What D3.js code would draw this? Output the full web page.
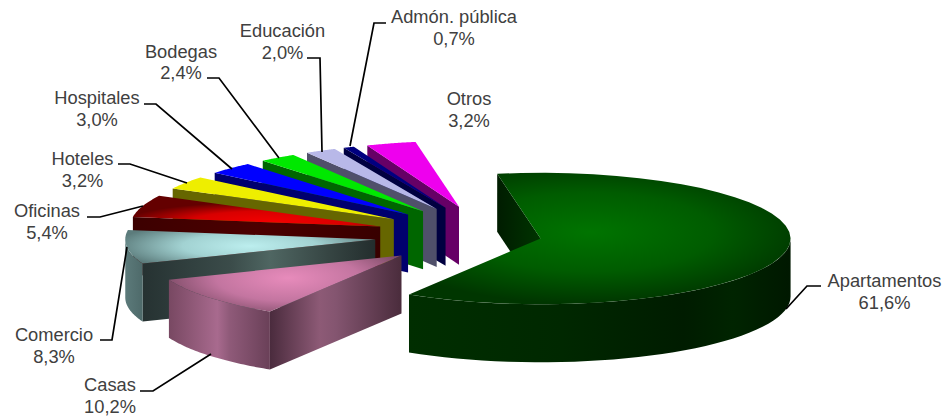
<!DOCTYPE html>
<html><head><meta charset="utf-8">
<script src="https://cdnjs.cloudflare.com/ajax/libs/d3/7.8.5/d3.min.js"></script>
<style>html,body{margin:0;padding:0;background:#fff}svg{display:block}text{font-family:"Liberation Sans",Arial,sans-serif;font-size:18.3px;fill:#404040;text-anchor:middle}</style>
</head><body><svg id="c" width="945" height="419"></svg>
<script>
// Data
const categories=["Apartamentos","Casas","Comercio","Oficinas","Hoteles","Hospitales","Bodegas","Educación","Admón. pública","Otros"];
const values=[61.6,10.2,8.3,5.4,3.2,3.0,2.4,2.0,0.7,3.2];
const valueLabels=["61,6%","10,2%","8,3%","5,4%","3,2%","3,0%","2,4%","2,0%","0,7%","3,2%"];
// Pull-out distance of each slice
const explode=[51,116,116,116,116,116,116,116,116,116];
// Styles: top face stops [offset, colour]
const topStops=[
 [[0,"#007400"],[.55,"#005c00"],[1,"#003600"]],
 [[0,"#e78bbb"],[.55,"#c375a0"],[1,"#784862"]],
 [[0,"#bceeee"],[.5,"#a2d2d2"],[1,"#5c7c7c"]],
 [[0,"#f40000"],[.55,"#d80000"],[1,"#640000"]],
 [[0,"#eeee00"]],[[0,"#0000ff"]],[[0,"#00e800"]],[[0,"#b8b8e8"]],[[0,"#000080"]],[[0,"#ee00ee"]]];
const topGlow=[[590,232,225,72],[288,278,130,42],[250,246,135,26],[270,222,145,20],null,null,null,null,null,null];
// Wall stops: [offset, colour]
const wallStops=[
 [[0,"#001c00"],[1,"#003400"]],
 [[0,"#4a2b3d"],[.38,"#8d5a76"],[.5,"#845570"],[1,"#4a2c3c"]],
 [[0,"#263232"],[.38,"#3b4c4a"],[.55,"#4f6662"],[.8,"#364543"],[1,"#232d2d"]],
 [[0,"#3c0000"],[.5,"#4c0000"],[1,"#380000"]],
 [[0,"#666600"],[1,"#666600"]],[[0,"#00006e"],[1,"#00006e"]],[[0,"#006600"],[1,"#006600"]],
 [[0,"#50506a"],[1,"#50506a"]],[[0,"#000040"],[1,"#000040"]],[[0,"#660066"],[1,"#660066"]]];
const rimStops=[
 [[0,"#002e00"],[.4,"#002800"],[.72,"#001c00"],[.85,"#002400"],[1,"#001800"]],
 [[0,"#784862"],[.48,"#a86a8e"],[.6,"#8f5a79"],[1,"#6a4058"]],
 [[0,"#5c7a7a"],[1,"#4e6a6a"]],
 [[0,"#3c0000"],[1,"#3c0000"]],[[0,"#666600"],[1,"#666600"]],[[0,"#00006e"],[1,"#00006e"]],[[0,"#006600"],[1,"#006600"]],[[0,"#50506a"],[1,"#50506a"]],[[0,"#000040"],[1,"#000040"]],[[0,"#660066"],[1,"#660066"]]];
// Label layout: [centre x, first baseline] and leader polyline
const labelPos=[[884.5,287],[110,391],[54,341],[47,217],[82.5,165],[97,104],[181,57.5],[282.5,37],[454,23],[469,105]];
const leaders=[[[821,286],[807,286],[786,309]],[[140,391],[153,391],[211,354]],[[100,340],[112,340],[127,247]],[[87,217],[100,217],[143,206]],[[118,164],[130,164],[187,183]],[[144,104],[156,104],[232,169]],[[207,78],[219,78],[279,158]],[[307,58],[320,58],[322,152]],[[386,23],[374,23],[350,146]],null];

const cx=490.5,cy=236,R=250,K=0.263,D=58;
const sx=d3.scaleLinear().domain([-1,1]).range([cx-R,cx+R]);
const sy=d3.scaleLinear().domain([-1,1]).range([cy+R*K,cy-R*K]);
const startA=-10*Math.PI/180;
const arcs=d3.pie().sort(null).startAngle(startA).endAngle(startA+2*Math.PI)(values);
const svg=d3.select("#c"),defs=svg.append("defs");
const line=d3.line();
function linGrad(id,stops,x0,x1){
  const g=defs.append("linearGradient").attr("id",id).attr("gradientUnits","userSpaceOnUse").attr("x1",x0).attr("x2",x1).attr("y1",0).attr("y2",0);
  stops.forEach(s=>g.append("stop").attr("offset",s[0]).attr("stop-color",s[1]));
}
const order=[0,9,8,7,6,5,4,3,2,1];
const layer=svg.append("g");
order.forEach(i=>{
  const a=arcs[i],e=explode[i]/R,mid=(a.startAngle+a.endAngle)/2;
  const ox=e*Math.sin(mid),oy=e*Math.cos(mid);
  const P=(t,r=1,dz=0)=>[sx(ox+r*Math.sin(t)),sy(oy+r*Math.cos(t))+dz];
  const samples=(t0,t1,dz)=>d3.range(0,41).map(j=>P(t0+(t1-t0)*j/40,1,dz));
  const apex=P(a.startAngle,0),startPt=P(a.startAngle);
  const g=layer.append("g");
  // start side wall
  const x0=Math.min(apex[0],startPt[0]),x1=Math.max(apex[0],startPt[0]);
  linGrad("w"+i,wallStops[i],x0,x1);
  g.append("path").attr("fill","url(#w"+i+")")
   .attr("d",line([startPt,apex,[apex[0],apex[1]+D],[startPt[0],startPt[1]+D]])+"Z");
  // outer wall (front half only)
  const t0=Math.max(a.startAngle,Math.PI/2),t1=Math.min(a.endAngle,1.5*Math.PI);
  if(t1>t0){
    const topE=samples(t0,t1,0),botE=samples(t0,t1,D).reverse();
    const xs=topE.map(p=>p[0]);
    linGrad("r"+i,rimStops[i],d3.min(xs),d3.max(xs));
    g.append("path").attr("fill","url(#r"+i+")").attr("d",line(topE.concat(botE))+"Z");
  }
  // top face
  let fill=topStops[i][0][1];
  if(topGlow[i]){
    const tg=topGlow[i];
    const rg=defs.append("radialGradient").attr("id","t"+i).attr("gradientUnits","userSpaceOnUse")
      .attr("cx",0).attr("cy",0).attr("r",1).attr("gradientTransform",`translate(${tg[0]},${tg[1]}) scale(${tg[2]},${tg[3]})`);
    topStops[i].forEach(s=>rg.append("stop").attr("offset",s[0]).attr("stop-color",s[1]));
    fill="url(#t"+i+")";
  }
  g.append("path").attr("fill",fill).attr("d",line([apex].concat(samples(a.startAngle,a.endAngle,0)))+"Z");
});
// Leaders
svg.append("g").selectAll("path").data(leaders.filter(Boolean)).join("path")
  .attr("d",d=>line(d)).attr("fill","none").attr("stroke","#000").attr("stroke-width",1.7);
// Labels
const lab=svg.append("g").selectAll("g").data(categories).join("g");
lab.append("text").attr("x",(d,i)=>labelPos[i][0]).attr("y",(d,i)=>labelPos[i][1]).text(d=>d);
lab.append("text").attr("x",(d,i)=>labelPos[i][0]).attr("y",(d,i)=>labelPos[i][1]+21.7).text((d,i)=>valueLabels[i]);
</script></body></html>
